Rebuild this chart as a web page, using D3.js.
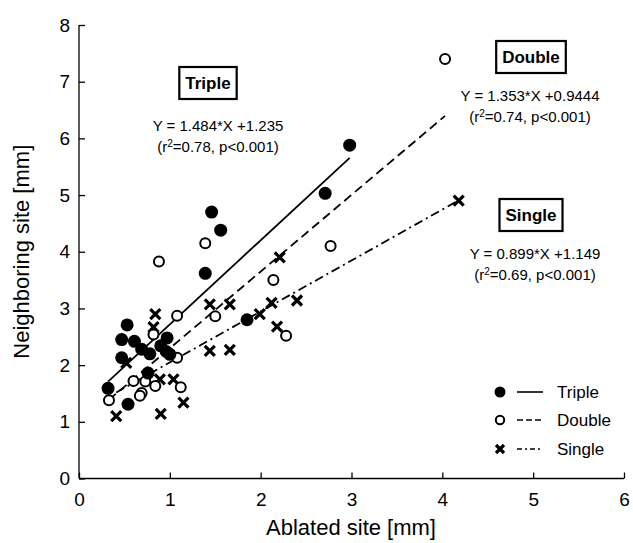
<!DOCTYPE html>
<html>
<head>
<meta charset="utf-8">
<script src="https://cdn.jsdelivr.net/npm/d3@7"></script>
<style>
  body { margin: 0; background: #fff; }
  text { font-family: "Liberation Sans", Arial, sans-serif; fill: #000; }
</style>
</head>
<body>
<svg id="svgMain" width="633" height="543"></svg>
<script>
// data: [ablated, neighboring] in mm
const tripleData = [
    [0.32, 1.59], [0.54, 1.31], [0.47, 2.13], [0.47, 2.45], [0.53, 2.71],
    [0.61, 2.42], [0.69, 2.28], [0.78, 2.20], [0.76, 1.86], [0.90, 2.34],
    [0.97, 2.48], [0.96, 2.24], [1.00, 2.19], [1.39, 3.62], [1.46, 4.70],
    [1.56, 4.38], [1.85, 2.80], [2.71, 5.03], [2.98, 5.88]
];
const doubleData = [
    [0.33, 1.38], [0.60, 1.72], [0.69, 1.51], [0.67, 1.46], [0.73, 1.71],
    [0.84, 1.63], [0.82, 2.54], [1.08, 2.87], [1.08, 2.13], [1.12, 1.61],
    [0.88, 3.83], [1.39, 4.15], [1.50, 2.86], [2.14, 3.50], [2.28, 2.52],
    [2.77, 4.10], [4.03, 7.40]
];
const singleData = [
    [0.41, 1.10], [0.52, 2.04], [0.82, 2.67], [0.84, 2.90], [0.89, 1.75],
    [1.04, 1.75], [0.90, 1.14], [1.15, 1.34], [1.44, 3.07], [1.44, 2.25],
    [1.66, 3.07], [1.66, 2.27], [1.99, 2.90], [2.12, 3.10], [2.18, 2.68],
    [2.21, 3.90], [2.40, 3.14], [4.18, 4.90]
];

// regression fits printed on the chart: slope, intercept, x range
const fitNames = ["Triple", "Double", "Single"];
const fitSlope = [1.484, 1.353, 0.899];
const fitIntercept = [1.235, 0.9444, 1.149];
const fitRange = [[0.32, 2.98], [0.33, 4.03], [0.41, 4.18]];
const fitLabels = ["Y = 1.484*X +1.235", "Y = 1.353*X +0.9444", "Y = 0.899*X +1.149"];
const fitStats = ["=0.78, p<0.001)", "=0.74, p<0.001)", "=0.69, p<0.001)"];

const xTicks = [0, 1, 2, 3, 4, 5, 6];
const yTicks = [0, 1, 2, 3, 4, 5, 6, 7, 8];

let svgMain = d3.select("#svgMain");
var margin = { top: 25, right: 9, bottom: 64.5, left: 79 };
var plotWidth = 633 - margin.left - margin.right;
var plotHeight = 543 - margin.top - margin.bottom;

const xScale = d3.scaleLinear().domain([0, 6]).range([0, plotWidth]);
const yScale = d3.scaleLinear().domain([0, 8]).range([plotHeight, 0]);

const plot = svgMain.append("g")
    .attr("transform", "translate(" + margin.left + "," + margin.top + ")");

//Axis
let xAxis = d3.axisBottom(xScale).tickValues(xTicks).tickFormat(d3.format("d")).tickSizeOuter(0).tickSize(6);
let xg = plot.append("g")
    .attr("transform", "translate(0," + plotHeight + ")")
    .call(xAxis);

let yAxis = d3.axisLeft(yScale).tickValues(yTicks).tickFormat(d3.format("d")).tickSizeOuter(0).tickSize(6);
let yg = plot.append("g").call(yAxis);

// ticks point into the plot: x ticks up, y ticks right
xg.selectAll(".tick line").attr("y2", -6);
yg.selectAll(".tick line").attr("x2", 6);
xg.selectAll(".tick text").attr("y", 14);
yg.selectAll(".tick text").attr("x", -9);
[xg, yg].forEach(g => {
    g.select(".domain").attr("stroke", "#000").attr("stroke-width", 1.3);
    g.selectAll(".tick line").attr("stroke", "#000").attr("stroke-width", 1.3);
    g.selectAll(".tick text").style("font-size", "19px").attr("font-family", "Liberation Sans, Arial, sans-serif").attr("fill", "#000");
});
xg.select(".domain").attr("d", "M0,0H" + plotWidth);
yg.select(".domain").attr("d", "M0," + plotHeight + "V0");

// axis labels
svgMain.append("text")
    .attr("x", 351)
    .attr("y", 535)
    .attr("text-anchor", "middle")
    .style("font-size", "22px")
    .text("Ablated site [mm]");

svgMain.append("text")
    .attr("transform", "translate(29," + (margin.top + plotHeight / 2) + ") rotate(-90)")
    .attr("text-anchor", "middle")
    .style("font-size", "22px")
    .text("Neighboring site [mm]");

// regression lines
const dashes = [null, "9,5", "9,4,2,4"];
fitNames.forEach((n, i) => {
    const pts = fitRange[i].map(x => [x, fitSlope[i] * x + fitIntercept[i]]);
    plot.append("path")
        .attr("d", d3.line().x(d => xScale(d[0])).y(d => yScale(d[1]))(pts))
        .attr("fill", "none")
        .attr("stroke", "#000")
        .attr("stroke-width", 1.8)
        .attr("stroke-dasharray", dashes[i]);
});

// markers
function drawCross(g, cx, cy, s) {
    g.append("path")
        .attr("d", "M" + (cx - s) + "," + (cy - s) + "L" + (cx + s) + "," + (cy + s) +
            "M" + (cx - s) + "," + (cy + s) + "L" + (cx + s) + "," + (cy - s))
        .attr("stroke", "#000")
        .attr("stroke-width", 3.2)
        .attr("fill", "none");
}

singleData.forEach(d => drawCross(plot, xScale(d[0]), yScale(d[1]), 5));

plot.selectAll(".dbl")
    .data(doubleData)
    .enter().append("circle")
    .attr("cx", d => xScale(d[0]))
    .attr("cy", d => yScale(d[1]))
    .attr("r", 5)
    .attr("fill", "#fff")
    .attr("stroke", "#000")
    .attr("stroke-width", 2);

plot.selectAll(".tri")
    .data(tripleData)
    .enter().append("circle")
    .attr("cx", d => xScale(d[0]))
    .attr("cy", d => yScale(d[1]))
    .attr("r", 6.5)
    .attr("fill", "#000");

// equation annotations
const boxCenters = [[208, 83], [531, 57], [531, 215]];
const eqCenters = [[218, 131], [530, 101], [535, 259]];
const notes = svgMain.append("g");
fitNames.forEach((n, i) => {
    const [bx, by] = boxCenters[i];
    const t = notes.append("text")
        .attr("x", bx).attr("y", by + 6)
        .attr("text-anchor", "middle")
        .style("font-size", "17px")
        .style("font-weight", "bold")
        .text(n);
    const bb = t.node().getBBox();
    notes.append("rect")
        .attr("x", bb.x - 6).attr("y", by - 16)
        .attr("width", bb.width + 12).attr("height", 32)
        .attr("fill", "none")
        .attr("stroke", "#000")
        .attr("stroke-width", 2.2);

    const [ex, ey] = eqCenters[i];
    notes.append("text")
        .attr("x", ex).attr("y", ey)
        .attr("text-anchor", "middle")
        .style("font-size", "15px")
        .text(fitLabels[i]);
    const st = notes.append("text")
        .attr("x", ex).attr("y", ey + 21)
        .attr("text-anchor", "middle")
        .style("font-size", "15px");
    st.append("tspan").text("(r");
    st.append("tspan").attr("dy", -5).style("font-size", "10px").text("2");
    st.append("tspan").attr("dy", 5).text(fitStats[i]);
});

// legend
const legendY = [392, 420, 449];
const lg = svgMain.append("g");
lg.append("circle").attr("cx", 500).attr("cy", legendY[0]).attr("r", 5.5).attr("fill", "#000");
lg.append("circle").attr("cx", 500).attr("cy", legendY[1]).attr("r", 4.2)
    .attr("fill", "#fff").attr("stroke", "#000").attr("stroke-width", 2);
drawCross(lg, 500, legendY[2], 4);
fitNames.forEach((n, i) => {
    lg.append("line")
        .attr("x1", 517).attr("x2", 543)
        .attr("y1", legendY[i]).attr("y2", legendY[i])
        .attr("stroke", "#000").attr("stroke-width", 1.6)
        .attr("stroke-dasharray", i === 0 ? null : (i === 1 ? "6,3" : "5,3,2,3"));
    lg.append("text")
        .attr("x", 557).attr("y", legendY[i] + 6)
        .style("font-size", "17px")
        .text(n);
});
</script>
</body>
</html>
